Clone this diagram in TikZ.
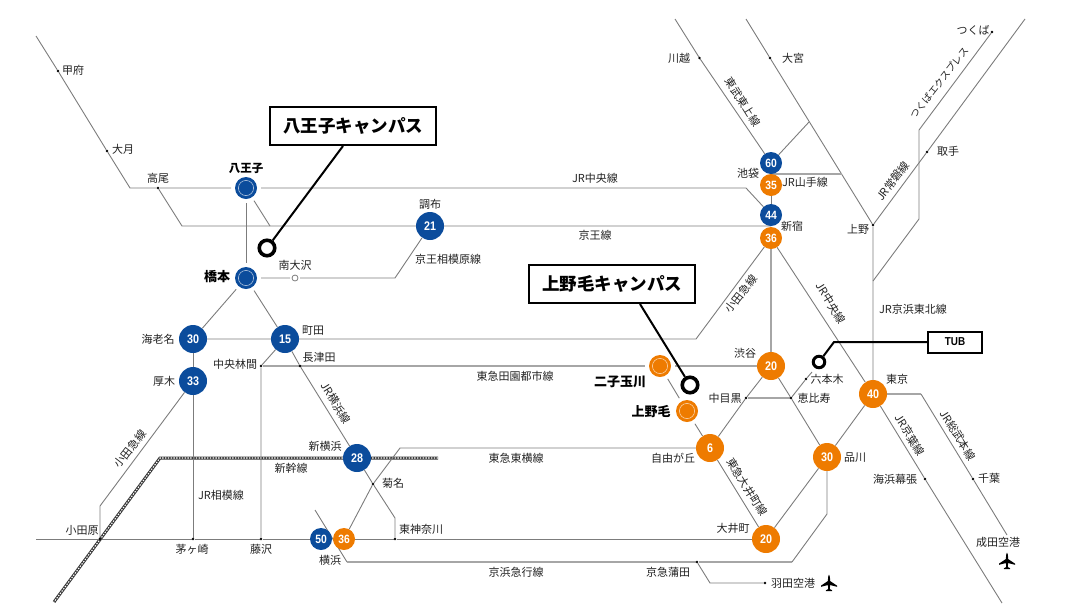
\documentclass[tikz,border=0pt]{standalone}
\usepackage{fontspec}
\setmainfont{Noto Sans CJK JP}
\newfontfamily\numfont[FakeStretch=0.86]{Liberation Sans Bold}
\usetikzlibrary{backgrounds}
\definecolor{tcublue}{HTML}{0B4C9C}
\definecolor{tcuorange}{HTML}{EE7B00}
\definecolor{railgray}{HTML}{7C7C7C}
\definecolor{railpale}{HTML}{A6A6A6}
\definecolor{labelink}{HTML}{222222}
\tikzset{
  stationbig/.style={circle,inner sep=0pt,minimum size=28pt,text=white,font=\numfont\fontsize{12.5}{13}\selectfont},
  stationmid/.style={circle,inner sep=0pt,minimum size=22pt,text=white,font=\numfont\fontsize{12}{13}\selectfont},
  ringed/.style={circle,inner sep=0pt,minimum size=22pt,outer sep=4pt,
    path picture={\draw[white!65!#1,line width=.6pt] (path picture bounding box.center) circle (7.6pt);}},
  dot/.style={circle,fill=black,inner sep=0pt,minimum size=2.6pt},
  campus/.style={circle,draw=black,fill=white,line width=3.6pt,inner sep=0pt,minimum size=15.5pt},
  callout/.style={draw=black,fill=white,line width=2pt,inner sep=0pt,font=\fontsize{17.5}{20}\selectfont\bfseries},
  leader/.style={draw=black,line width=2pt},
  lbl/.style={inner sep=0pt,text=labelink,font=\fontsize{11}{13}\selectfont},
  lblbold/.style={inner sep=0pt,text=black,font=\fontsize{13}{15}\selectfont\bfseries},
  rail/.style={draw=railgray,line width=.9pt},
  railwide/.style={draw=railpale,line width=1.5pt},
  shinkansen/.style={draw=black!78,line width=3pt,
    postaction={draw=white,line width=1.1pt,dash pattern=on 1.4pt off 1.4pt}},
  plane/.pic={\fill[black] (0,-8.5) .. controls (1,-7.5) and (1.1,-5) .. (1.1,-2) -- (8,2.6) -- (8,3.8) -- (1.1,2) -- (.8,6) -- (3.2,7.4) -- (3.2,8.2) -- (-3.2,8.2) -- (-3.2,7.4) -- (-.8,6) -- (-1.1,2) -- (-8,3.8) -- (-8,2.6) -- (-1.1,-2) .. controls (-1.1,-5) and (-1,-7.5) .. (0,-8.5) -- cycle;}
}
\begin{document}
\begin{tikzpicture}[x=1pt,y=-1pt]
\useasboundingbox (0,0) rectangle (1070,614);

% stations
\node[ringed=tcublue,fill=tcublue] (hachioji) at (246,188) {};
\node[ringed=tcublue,fill=tcublue] (hashimoto) at (246,278) {};
\node[stationbig,fill=tcublue] (ebina) at (193,339) {30};
\node[stationbig,fill=tcublue] (machida) at (285,339) {15};
\node[stationbig,fill=tcublue] (atsugi) at (193,381) {33};
\node[stationbig,fill=tcublue] (chofu) at (430,226) {21};
\node[stationbig,fill=tcublue] (shinyoko) at (357,458) {28};
\node[stationmid,fill=tcublue] (yokohamaB) at (321,539) {50};
\node[stationmid,fill=tcuorange] (yokohamaO) at (344,539) {36};
\node[stationmid,fill=tcublue] (ikebukuroB) at (771,163) {60};
\node[stationmid,fill=tcuorange] (ikebukuroO) at (771,185) {35};
\node[stationmid,fill=tcublue] (shinjukuB) at (771,215) {44};
\node[stationmid,fill=tcuorange] (shinjukuO) at (771,238) {36};
\node[stationbig,fill=tcuorange] (shibuya) at (771,366) {20};
\node[stationbig,fill=tcuorange] (tokyo) at (873,394) {40};
\node[stationbig,fill=tcuorange] (shinagawa) at (827,457) {30};
\node[stationbig,fill=tcuorange] (oimachi) at (766,539) {20};
\node[stationbig,fill=tcuorange] (jiyugaoka) at (710,448) {6};
\node[ringed=tcuorange,fill=tcuorange] (futako) at (660,366) {};
\node[ringed=tcuorange,fill=tcuorange] (kaminoge) at (687,411) {};

% small stops
\node[dot] (kofu) at (58,71) {};
\node[dot] (otsuki) at (107,151) {};
\node[dot] (takao) at (158,188) {};
\node[circle,draw=railgray,fill=white,line width=.8pt,inner sep=0pt,minimum size=6pt,outer sep=2pt] (minamiosawa) at (295,278) {};
\node[dot] (rinkan) at (261,366) {};
\node[dot] (nagatsuta) at (300,366) {};
\node[dot] (kikuna) at (373,484) {};
\node[dot] (odawara) at (100,539) {};
\node[dot] (chigasaki) at (193,539) {};
\node[dot] (fujisawa) at (261,539) {};
\node[dot] (higashikana) at (395,539) {};
\node[dot] (kamata) at (697,562) {};
\node[dot] (haneda) at (765,583) {};
\node[dot] (nakameguro) at (746,398) {};
\node[dot] (ebisu) at (791,398) {};
\node[dot] (roppongi) at (806,379) {};
\node[dot] (kawagoe) at (699.5,58) {};
\node[dot] (omiya) at (770,58) {};
\node[dot] (ueno) at (873,225) {};
\node[dot] (toride) at (927,152) {};
\node[dot] (tsukuba) at (992,32) {};
\node[dot] (kaihin) at (925,479) {};
\node[dot] (chiba) at (973,479) {};

% ends and bends
\coordinate (kofuEnd) at (36,36);
\coordinate (takaoBend) at (130,188);
\coordinate (keioBend) at (182,226);
\coordinate (hachiojiFork) at (270,226);
\coordinate (sagamiharaBend) at (395,278);
\coordinate (shinjukuJoin) at (771,226);
\coordinate (chuoBend) at (746,188);
\coordinate (odakyuBend) at (696,339);
\coordinate (odakyuWest) at (100,506);
\coordinate (tokaidoEnd) at (36,539);
\coordinate (yokohamaLineBend) at (395,518);
\coordinate (toyokoBend) at (400,448);
\coordinate (keikyuEnd) at (315,510);
\coordinate (keikyuBend) at (347,562);
\coordinate (keikyuEast) at (792,562);
\coordinate (keikyuUp) at (827,514);
\coordinate (hanedaBend) at (710,583);
\coordinate (roppongiEnd) at (812,372);
\coordinate (tojoEnd) at (675,19);
\coordinate (omiyaEnd) at (746,19);
\coordinate (ikebukuroFork) at (809,122);
\coordinate (yamanoteEast) at (842,174);
\coordinate (yamanoteWest) at (771,174);
\coordinate (jobanEnd) at (1025,19);
\coordinate (tsukubaBendA) at (919,130);
\coordinate (tsukubaBendB) at (919,219);
\coordinate (tsukubaJoin) at (873,281);
\coordinate (sobuBend) at (921,394);
\coordinate (sobuEnd) at (1007,535);
\coordinate (keiyoEnd) at (1002,603);
\coordinate (shinEast) at (438,458);
\coordinate (shinBend) at (160,458);
\coordinate (shinSouth) at (54,602);
\coordinate (hachiojiTop) at (343,146);
\coordinate (kaminogeTop) at (640,304);
\coordinate (tubBend) at (834,342);

\begin{scope}[on background layer]
\draw[shinkansen] (shinEast) -- (shinBend) -- (shinSouth);
\draw[rail] (kofuEnd) -- (kofu) -- (otsuki) -- (takaoBend) -- (takao) -- (hachioji);
\draw[rail] (hachioji) -- (chuoBend) -- (shinjukuB);
\draw[rail] (takao) -- (keioBend) -- (chofu) -- (shinjukuJoin);
\draw[rail] (hachioji) -- (hachiojiFork);
\draw[rail] (hachioji) -- (hashimoto);
\draw[rail] (hashimoto) -- (minamiosawa) -- (sagamiharaBend) -- (chofu);
\draw[rail] (hashimoto) -- (ebina);
\draw[rail] (hashimoto) -- (machida);
\draw[rail] (ebina) -- (machida) -- (odakyuBend) -- (shinjukuO);
\draw[rail] (ebina) -- (atsugi) -- (chigasaki);
\draw[rail] (atsugi) -- (odakyuWest) -- (odawara);
\draw[rail] (machida) -- (rinkan) -- (fujisawa);
\draw[rail] (machida) -- (nagatsuta) -- (shinyoko) -- (kikuna) -- (yokohamaLineBend) -- (higashikana);
\draw[railwide] (rinkan) -- (futako) -- (shibuya);
\draw[rail] (tokaidoEnd) -- (odawara) -- (chigasaki) -- (fujisawa) -- (yokohamaB);
\draw[rail] (yokohamaO) -- (higashikana) -- (oimachi);
\draw[rail] (yokohamaO) -- (kikuna) -- (toyokoBend) -- (jiyugaoka);
\draw[rail] (keikyuEnd) -- (keikyuBend);
\draw[railwide] (keikyuBend) -- (kamata) -- (keikyuEast);
\draw[rail] (keikyuEast) -- (keikyuUp) -- (shinagawa);
\draw[rail] (kamata) -- (hanedaBend) -- (haneda);
\draw[rail] (futako) -- (kaminoge) -- (jiyugaoka);
\draw[rail] (jiyugaoka) -- (nakameguro) -- (shibuya);
\draw[rail] (jiyugaoka) -- (oimachi) -- (shinagawa) -- (tokyo);
\draw[railwide] (nakameguro) -- (ebisu);
\draw[rail] (shibuya) -- (ebisu) -- (shinagawa);
\draw[rail] (ebisu) -- (roppongi) -- (roppongiEnd);
\draw[rail] (shinjukuO) -- (tokyo);
\draw[railwide] (shinjukuO) -- (shibuya);
\draw[rail] (ikebukuroO) -- (shinjukuB);
\draw[rail] (tojoEnd) -- (kawagoe) -- (ikebukuroB);
\draw[rail] (omiyaEnd) -- (omiya) -- (ueno) -- (tokyo);
\draw[rail] (ikebukuroB) -- (ikebukuroFork);
\draw[railwide] (yamanoteWest) -- (yamanoteEast);
\draw[rail] (ueno) -- (toride) -- (jobanEnd);
\draw[rail] (tsukuba) -- (tsukubaBendA) -- (tsukubaBendB) -- (tsukubaJoin);
\draw[railwide] (tokyo) -- (sobuBend);
\draw[rail] (sobuBend) -- (chiba) -- (sobuEnd);
\draw[rail] (tokyo) -- (kaihin) -- (keiyoEnd);
\end{scope}

% labels
\node[lbl] (lKofu) at (73,70) {甲府};
\node[lbl] (lOtsuki) at (123,149) {大月};
\node[lbl] (lTakao) at (158,178) {高尾};
\node[lblbold,font=\fontsize{11.5}{14}\selectfont\bfseries] (lHachioji) at (246,168) {八王子};
\node[lblbold] (lHashimoto) at (217,277) {橋本};
\node[lbl] (lMinamiosawa) at (295,265) {南大沢};
\node[lbl] (lChofu) at (430,204) {調布};
\node[lbl] (lSagamihara) at (448,259) {京王相模原線};
\node[lbl] (lChuo) at (595,178) {JR中央線};
\node[lbl] (lKeio) at (595,235) {京王線};
\node[lbl] (lEbina) at (158,339) {海老名};
\node[lbl] (lMachida) at (313,331) {町田};
\node[lbl] (lRinkan) at (235,364) {中央林間};
\node[lbl] (lNagatsuta) at (319,357) {長津田};
\node[lbl] (lAtsugi) at (164,381) {厚木};
\node[lbl,rotate=-58] (lYokohamaLine) at (336,403) {JR横浜線};
\node[lbl,rotate=52] (lOdakyuWest) at (130,449) {小田急線};
\node[lbl] (lShinyoko) at (325,446) {新横浜};
\node[lbl] (lShinkansen) at (291,468) {新幹線};
\node[lbl] (lKikuna) at (393,483) {菊名};
\node[lbl] (lSagami) at (221,495) {JR相模線};
\node[lbl] (lHigashikana) at (421,529) {東神奈川};
\node[lbl] (lOdawara) at (82,530) {小田原};
\node[lbl] (lChigasaki) at (192,549) {茅ヶ崎};
\node[lbl] (lFujisawa) at (261,549) {藤沢};
\node[lbl] (lYokohama) at (330,560) {横浜};
\node[lbl] (lDenentoshi) at (515,376) {東急田園都市線};
\node[lbl] (lToyoko) at (516,458) {東急東横線};
\node[lbl] (lKeikyu) at (516,572) {京浜急行線};
\node[lbl] (lKamata) at (668,572) {京急蒲田};
\node[lbl] (lHaneda) at (793,583) {羽田空港};
\node[lblbold] (lFutako) at (620,382) {二子玉川};
\node[lblbold] (lKaminoge) at (651,412) {上野毛};
\node[lbl] (lJiyugaoka) at (673,458) {自由が丘};
\node[lbl] (lOimachi) at (733,528) {大井町};
\node[lbl] (lShibuya) at (745,353) {渋谷};
\node[lbl] (lNakameguro) at (725,398) {中目黒};
\node[lbl] (lRoppongi) at (827,379) {六本木};
\node[lbl] (lEbisu) at (814,398) {恵比寿};
\node[lbl] (lShinagawa) at (855,458) {品川};
\node[lbl] (lTokyo) at (897,379) {東京};
\node[lbl,rotate=-58] (lOimachiLine) at (747,487) {東急大井町線};
\node[lbl,rotate=-58] (lKeiyo) at (910,435) {JR京葉線};
\node[lbl,rotate=-58] (lSobu) at (958,435) {JR総武本線};
\node[lbl] (lKaihin) at (895,479) {海浜幕張};
\node[lbl] (lChiba) at (989,478) {千葉};
\node[lbl] (lNarita) at (998,542) {成田空港};
\node[lbl] (lKeihin) at (913,309) {JR京浜東北線};
\node[lbl,rotate=-58] (lChuoEast) at (831,303) {JR中央線};
\node[lbl,rotate=52] (lOdakyuEast) at (741,294) {小田急線};
\node[lbl] (lKawagoe) at (679,58) {川越};
\node[lbl] (lOmiya) at (793,58) {大宮};
\node[lbl,rotate=-58] (lTojo) at (743,102) {東武東上線};
\node[lbl] (lIkebukuro) at (748,173) {池袋};
\node[lbl] (lYamanote) at (805,182) {JR山手線};
\node[lbl] (lShinjuku) at (792,226) {新宿};
\node[lbl] (lUeno) at (858,229) {上野};
\node[lbl] (lToride) at (948,151) {取手};
\node[lbl] (lTsukuba) at (973,30) {つくば};
\node[lbl,rotate=52,font=\fontsize{9.8}{12}\selectfont] (lExpress) at (939,83) {つくばエクスプレス};
\node[lbl,rotate=52] (lJoban) at (893,181) {JR常磐線};

\pic at (829,583) {plane};
\pic at (1007,561) {plane};

% campuses
\node[callout,minimum width=166pt,minimum height=38pt] (boxHachioji) at (353,126) {八王子キャンパス};
\node[callout,minimum width=166pt,minimum height=38pt] (boxKaminoge) at (612,284) {上野毛キャンパス};
\node[callout,font=\numfont\fontsize{11.5}{12}\selectfont,minimum width=54pt,minimum height=21pt] (boxTub) at (955,342) {TUB};
\node[campus] (markHachioji) at (267,248) {};
\node[campus] (markKaminoge) at (690,385) {};
\node[campus,line width=3pt,minimum size=11.5pt] (markTub) at (819,362) {};
\draw[leader] (hachiojiTop) -- (markHachioji);
\draw[leader] (kaminogeTop) -- (markKaminoge);
\draw[leader] (boxTub) -- (tubBend) -- (markTub);
\end{tikzpicture}
\end{document}
